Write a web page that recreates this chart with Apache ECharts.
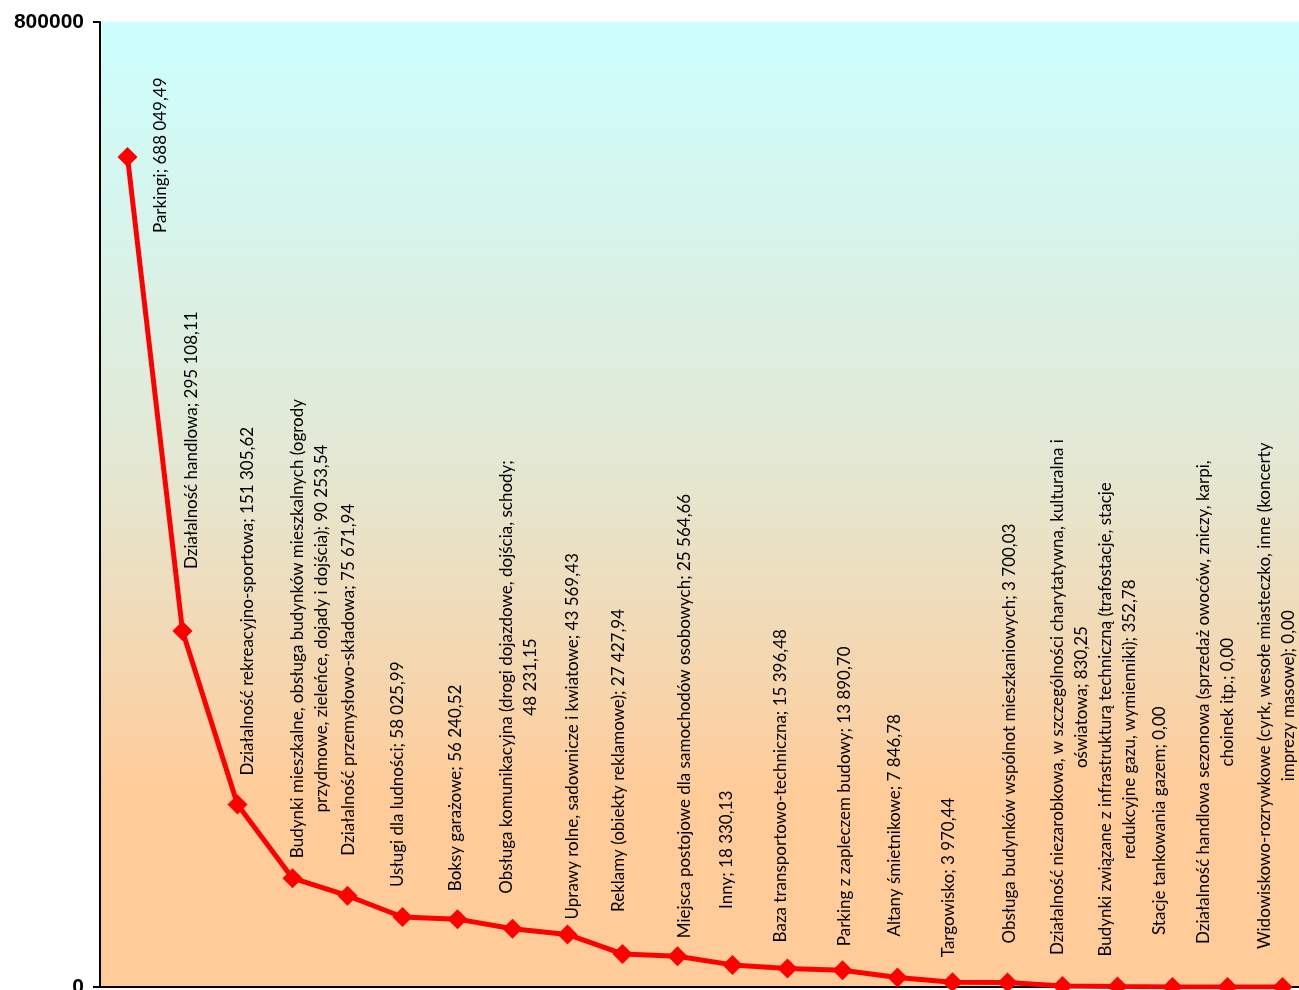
<!DOCTYPE html>
<html>
<head>
<meta charset="utf-8">
<script src="https://cdn.jsdelivr.net/npm/echarts@6/dist/echarts.min.js"></script>
<style>
  html, body { margin: 0; padding: 0; background: #fff; }
  #chart { width: 1299px; height: 990px; }
</style>
</head>
<body>
<div id="chart"></div>
<script>
const categories = [
  "Parkingi",
  "Działalność handlowa",
  "Działalność rekreacyjno-sportowa",
  "Budynki mieszkalne, obsługa budynków mieszkalnych (ogrody\nprzydmowe, zieleńce, dojady i dojścia)",
  "Działalność przemysłowo-składowa",
  "Usługi dla ludności",
  "Boksy garażowe",
  "Obsługa komunikacyjna (drogi dojazdowe, dojścia, schody",
  "Uprawy rolne, sadownicze i kwiatowe",
  "Reklamy (obiekty reklamowe)",
  "Miejsca postojowe dla samochodów osobowych",
  "Inny",
  "Baza transportowo-techniczna",
  "Parking z zapleczem budowy",
  "Altany śmietnikowe",
  "Targowisko",
  "Obsługa budynków wspólnot mieszkaniowych",
  "Działalność niezarobkowa, w szczególności charytatywna, kulturalna i\noświatowa",
  "Budynki związane z infrastrukturą techniczną (trafostacje, stacje\nredukcyjne gazu, wymienniki)",
  "Stacje tankowania gazem",
  "Działalność handlowa sezonowa (sprzedaż owoców, zniczy, karpi,\nchoinek itp.",
  "Widowiskowo-rozrywkowe (cyrk, wesołe miasteczko, inne (koncerty\nimprezy masowe)"
];

const values = [
  688049.49, 295108.11, 151305.62, 90253.54, 75671.94, 58025.99,
  56240.52, 48231.15, 43569.43, 27427.94, 25564.66, 18330.13,
  15396.48, 13890.70, 7846.78, 3970.44, 3700.03, 830.25,
  352.78, 0, 0, 0
];

const yTicks = [0, 800000];

// where each label sits: [gap above the point, sideways shift], px
const labelNudge = [
  [-76, 33], [62, 9], [29, 10], [20, 17], [40, 1], [30, -5],
  [28, -2], [35, 6], [15, 5], [42, -4], [18, 7], [56, -6],
  [26, -7], [24, 2], [41, -3], [25, -4], [39, 2], [31, 7],
  [30, 0], [52, -13], [43, -12], [38, -6]
];
const valueOnNewLine = [7];

const LABEL_SIZE = 17;
const LABEL_FAMILY = "Lato";

function formatPl(v) {
  const parts = v.toFixed(2).split(".");
  return parts[0].replace(/\B(?=(\d{3})+(?!\d))/g, " ") + "," + parts[1];
}

function labelText(i) {
  const sep = valueOnNewLine.includes(i) ? ";\n" : "; ";
  return categories[i] + sep + formatPl(values[i]);
}

const measureCtx = document.createElement("canvas").getContext("2d");
measureCtx.font = LABEL_SIZE + "px " + LABEL_FAMILY;

const seriesData = values.map((v, i) => {
  const text = labelText(i);
  const w = Math.max(...text.split("\n").map((s) => measureCtx.measureText(s).width));
  const nudge = labelNudge[i];
  return {
    value: v,
    label: { formatter: text, offset: [nudge[0] + w / 2, nudge[1]] }
  };
});

const chart = echarts.init(document.getElementById("chart"));

chart.setOption({
  animation: false,
  grid: {
    left: 100,
    top: 22,
    width: 1210,
    height: 965,
    outerBoundsMode: "none",
    containLabel: false,
    show: true,
    borderWidth: 0,
    backgroundColor: {
      type: "linear", x: 0, y: 0, x2: 0, y2: 1,
      colorStops: [
        { offset: 0, color: "#CCFFFF" },
        { offset: 0.45, color: "#E3E8D4" },
        { offset: 0.8, color: "#FFCC99" },
        { offset: 1, color: "#FFCC99" }
      ]
    }
  },
  xAxis: {
    type: "category",
    data: categories,
    boundaryGap: true,
    axisLine: { lineStyle: { color: "#000", width: 2 } },
    axisTick: { show: false },
    axisLabel: { show: false },
    splitLine: { show: false }
  },
  yAxis: {
    type: "value",
    min: yTicks[0],
    max: yTicks[1],
    interval: yTicks[1] - yTicks[0],
    axisLine: { show: true, lineStyle: { color: "#000", width: 2 } },
    axisTick: { show: true, length: 7, lineStyle: { color: "#000", width: 2 } },
    axisLabel: {
      margin: 16,
      color: "#000",
      fontWeight: "bold",
      fontSize: 21,
      fontFamily: "Liberation Sans",
      formatter: (v) => String(v)
    },
    splitLine: { show: false }
  },
  series: [
    {
      type: "line",
      data: seriesData,
      symbol: "diamond",
      symbolSize: 20,
      lineStyle: { color: "#FF0000", width: 5 },
      itemStyle: { color: "#FF0000" },
      label: {
        show: true,
        position: "inside",
        rotate: 90,
        align: "center",
        verticalAlign: "middle",
        color: "#000",
        textBorderWidth: 0,
        fontFamily: LABEL_FAMILY,
        fontSize: LABEL_SIZE,
        lineHeight: 24
      },
      emphasis: { disabled: true }
    }
  ]
});
</script>
</body>
</html>
